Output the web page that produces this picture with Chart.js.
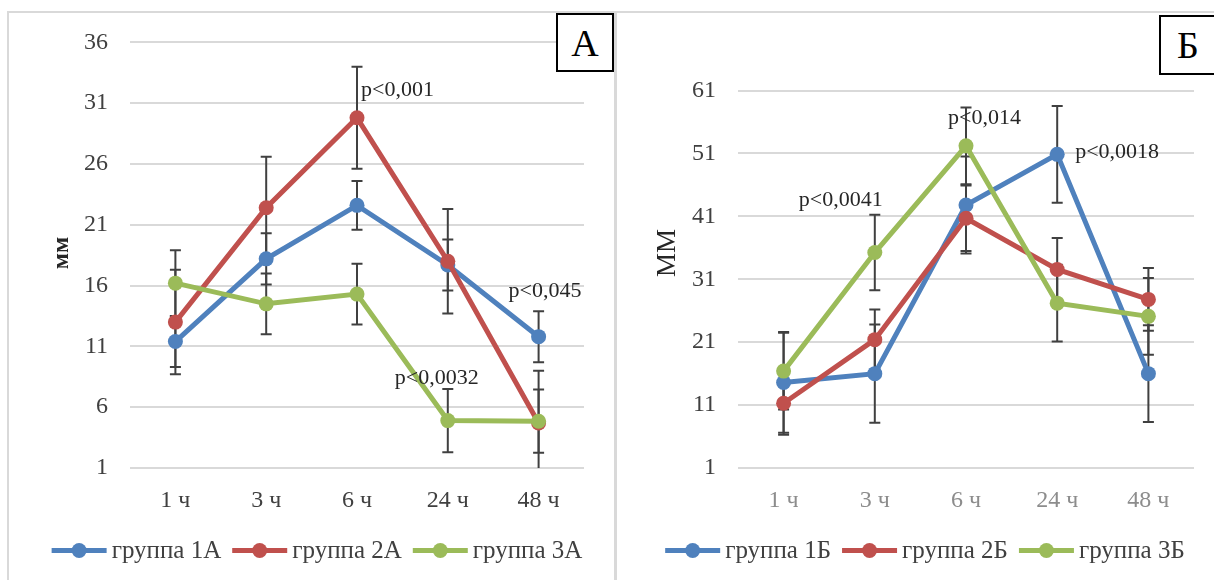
<!DOCTYPE html>
<html>
<head>
<meta charset="utf-8">
<script src="https://cdn.jsdelivr.net/npm/chart.js@4.4.1/dist/chart.umd.min.js"></script>
<style>
  body { margin: 0; background: #fff; width: 1214px; height: 580px; overflow: hidden; position: relative; }
  .frame { position: absolute; background: #d9d9d9; }
  canvas { position: absolute; }
  .tag {
    position: absolute; box-sizing: border-box; border: 2px solid #000; background: #fff;
    font-family: 'Liberation Serif', serif; font-size: 38px; color: #000;
    display: flex; align-items: center; justify-content: center;
  }
</style>
</head>
<body>
<div class="frame" style="left:7px;top:11px;width:1207px;height:2px"></div>
<div class="frame" style="left:7px;top:11px;width:2px;height:569px"></div>
<div class="frame" style="left:614px;top:11px;width:3px;height:569px"></div>
<canvas id="chartA" width="605" height="574" style="left:9px;top:6px"></canvas>
<canvas id="chartB" width="597" height="567" style="left:617px;top:13px"></canvas>
<div class="tag" style="left:556px;top:13px;width:58px;height:59px">А</div>
<div class="tag" style="left:1159px;top:15px;width:58px;height:60px">Б</div>
<script>
// Data
const hours = ['1 ч', '3 ч', '6 ч', '24 ч', '48 ч'];

const yTicksA = [1, 6, 11, 16, 21, 26, 31, 36];
const group1A = [11.4, 18.2, 22.6, 17.7, 11.8];
const group2A = [13.0, 22.4, 29.8, 18.0, 4.7];
const group3A = [16.2, 14.5, 15.3, 4.9, 4.85];
const err1A = [2.1, 2.1, 2.0, 2.1, 2.1];
const err2A = [4.3, 4.2, 4.2, 4.3, 4.3];
const err3A = [2.7, 2.5, 2.5, 2.6, 2.6];

const yTicksB = [1, 11, 21, 31, 41, 51, 61];
const group1B = [14.6, 16.0, 42.8, 50.85, 16.0];
const group2B = [11.3, 21.4, 40.7, 32.55, 27.8];
const group3B = [16.4, 35.25, 52.2, 27.2, 25.1];
const err1B = [8.0, 7.8, 7.7, 7.7, 7.7];
const err2B = [5.0, 4.8, 5.2, 5.0, 5.0];
const err3B = [6.1, 6.0, 6.1, 6.1, 6.1];

const colors = ['#4F81BD', '#C0504D', '#9BBB59'];
const serif = 'Liberation Serif';

// p-value notes: category index, y value, pixel shift from category centre
const notesA = [
    { text: 'p<0,001', idx: 2, value: 32.05, dx: 4 },
    { text: 'p<0,045', idx: 4, value: 15.54, dx: -30 },
    { text: 'p<0,0032', idx: 3, value: 8.39, dx: -53 }
];
const notesB = [
    { text: 'p<0,0041', idx: 1, value: 43.58, dx: -76 },
    { text: 'p<0,014', idx: 2, value: 56.6, dx: -18 },
    { text: 'p<0,0018', idx: 3, value: 51.2, dx: 18 }
];

// Error bars, notes, axis title and legend
const extrasPlugin = {
    id: 'extras',
    beforeDatasetsDraw(chart, args, opts) {
        const ctx = chart.ctx;
        const y = chart.scales.y;
        const area = chart.chartArea;
        ctx.save();
        ctx.strokeStyle = '#404040';
        ctx.lineWidth = 2;
        opts.errors.forEach((errs, i) => {
            const meta = chart.getDatasetMeta(i);
            const values = chart.data.datasets[i].data;
            meta.data.forEach((pt, j) => {
                const v = values[j], e = errs[j];
                let top = y.getPixelForValue(v + e);
                let bot = y.getPixelForValue(v - e);
                const topCap = top >= area.top, botCap = bot <= area.bottom;
                top = Math.max(top, area.top);
                bot = Math.min(bot, area.bottom);
                ctx.beginPath();
                ctx.moveTo(pt.x, top);
                ctx.lineTo(pt.x, bot);
                if (topCap) { ctx.moveTo(pt.x - 5.5, top); ctx.lineTo(pt.x + 5.5, top); }
                if (botCap) { ctx.moveTo(pt.x - 5.5, bot); ctx.lineTo(pt.x + 5.5, bot); }
                ctx.stroke();
            });
        });
        ctx.restore();
    },
    afterDatasetsDraw(chart, args, opts) {
        const ctx = chart.ctx;
        const x = chart.scales.x;
        const y = chart.scales.y;
        ctx.save();
        // notes
        ctx.fillStyle = '#262626';
        ctx.font = '22px "' + serif + '"';
        ctx.textAlign = 'left';
        ctx.textBaseline = 'middle';
        opts.notes.forEach(n => {
            ctx.fillText(n.text, x.getPixelForValue(n.idx) + n.dx, y.getPixelForValue(n.value));
        });
        // axis title
        ctx.save();
        ctx.translate(opts.title.x, opts.title.y);
        ctx.rotate(-Math.PI / 2);
        ctx.textAlign = 'center';
        ctx.textBaseline = 'middle';
        ctx.fillStyle = '#262626';
        ctx.font = opts.title.font;
        ctx.fillText(opts.title.text, 0, 0);
        ctx.restore();
        // legend
        ctx.font = '25px "' + serif + '"';
        const markW = 55, gap = 5, itemGap = 11;
        const items = chart.data.datasets.map(d => ({
            label: d.label, color: d.borderColor, w: ctx.measureText(d.label).width
        }));
        const total = items.reduce((s, it) => s + markW + gap + it.w, 0) + itemGap * (items.length - 1);
        let lx = opts.legendX - total / 2;
        const ly = opts.legendY;
        items.forEach(it => {
            ctx.strokeStyle = it.color;
            ctx.fillStyle = it.color;
            ctx.lineWidth = 5;
            ctx.beginPath();
            ctx.moveTo(lx, ly);
            ctx.lineTo(lx + markW, ly);
            ctx.stroke();
            ctx.beginPath();
            ctx.arc(lx + markW / 2, ly, 7.5, 0, Math.PI * 2);
            ctx.fill();
            ctx.fillStyle = '#404040';
            ctx.textAlign = 'left';
            ctx.fillText(it.label, lx + markW + gap, ly + 1);
            lx += markW + gap + it.w + itemGap;
        });
        ctx.restore();
    }
};

function makeDataset(label, data, color, order) {
    return {
        label: label,
        data: data,
        borderColor: color,
        backgroundColor: color,
        borderWidth: 5,
        pointRadius: 7.5,
        pointHoverRadius: 7.5,
        pointBorderWidth: 0,
        tension: 0,
        order: order
    };
}

function makeChart(id, cfg) {
    return new Chart(document.getElementById(id), {
        type: 'line',
        data: {
            labels: hours,
            datasets: [
                makeDataset(cfg.names[0], cfg.series[0], colors[0], 3),
                makeDataset(cfg.names[1], cfg.series[1], colors[1], 2),
                makeDataset(cfg.names[2], cfg.series[2], colors[2], 1)
            ]
        },
        options: {
            responsive: false,
            animation: false,
            layout: { padding: { top: cfg.padTop, right: cfg.padRight, bottom: 60, left: 0 } },
            plugins: {
                legend: { display: false },
                tooltip: { enabled: false },
                extras: {
                    errors: cfg.errors,
                    notes: cfg.notes,
                    title: cfg.title,
                    legendX: 308,
                    legendY: cfg.legendY
                }
            },
            scales: {
                x: {
                    type: 'category',
                    offset: true,
                    grid: { display: false, drawTicks: false },
                    border: { display: false },
                    ticks: {
                        color: cfg.xColor,
                        padding: 18,
                        font: { family: serif, size: 24 }
                    },
                    afterFit: s => { s.height = 52; }
                },
                y: {
                    min: cfg.yTicks[0],
                    max: cfg.yTicks[cfg.yTicks.length - 1],
                    afterBuildTicks: s => { s.ticks = cfg.yTicks.map(v => ({ value: v })); },
                    grid: { color: '#d9d9d9', lineWidth: 2, drawTicks: false },
                    border: { display: false },
                    ticks: {
                        color: '#404040',
                        padding: 22,
                        font: { family: serif, size: 24 }
                    },
                    afterFit: s => { s.width = cfg.yWidth; }
                }
            }
        },
        plugins: [extrasPlugin]
    });
}

makeChart('chartA', {
    names: ['группа 1А', 'группа 2А', 'группа 3А'],
    series: [group1A, group2A, group3A],
    errors: [err1A, err2A, err3A],
    notes: notesA,
    yTicks: yTicksA,
    yWidth: 121,
    padTop: 35,
    padRight: 30,
    xColor: '#404040',
    legendY: 544.5,
    title: { text: 'мм', x: 53, y: 247, font: 'bold 24px "' + serif + '"' }
});

makeChart('chartB', {
    names: ['группа 1Б', 'группа 2Б', 'группа 3Б'],
    series: [group1B, group2B, group3B],
    errors: [err1B, err2B, err3B],
    notes: notesB,
    yTicks: yTicksB,
    yWidth: 121,
    padTop: 77.5,
    padRight: 20,
    xColor: '#8c8c8c',
    legendY: 537.5,
    title: { text: 'ММ', x: 51, y: 240, font: '27px "' + serif + '"' }
});
</script>
</body>
</html>
